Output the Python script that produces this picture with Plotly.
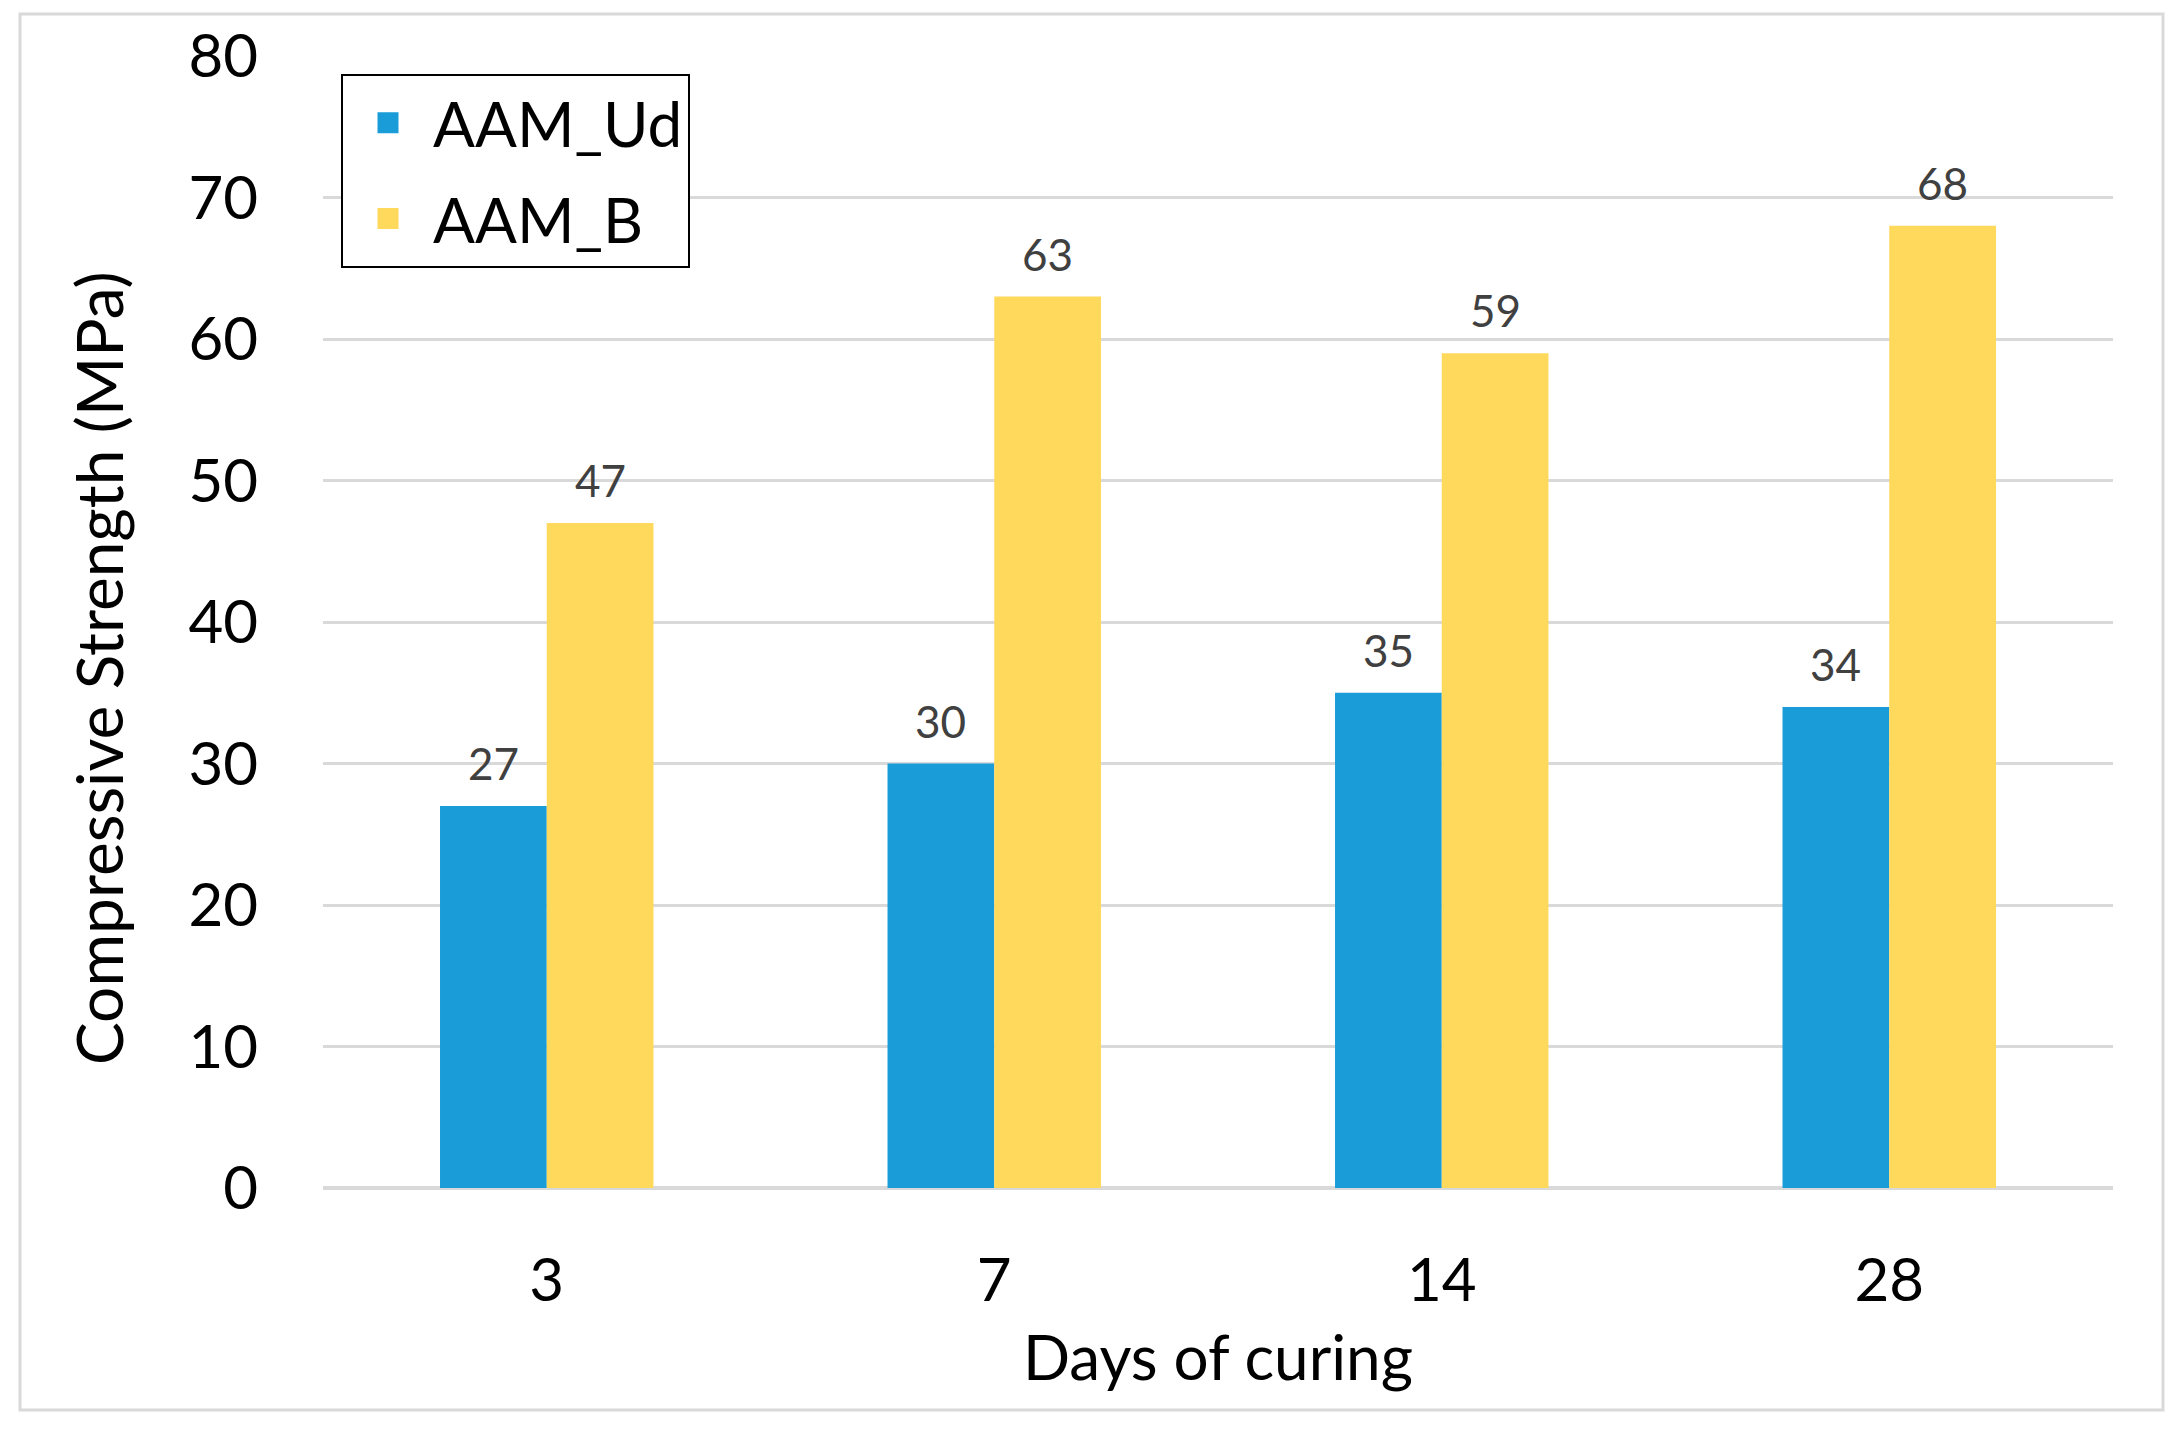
import plotly.graph_objects as go

days = ["3", "7", "14", "28"]
aam_ud = [27, 30, 35, 34]
aam_b = [47, 63, 59, 68]
series_names = ["AAM_Ud", "AAM_B"]
colors = ["#1a9cd8", "#ffd95c"]
y_ticks = [0, 10, 20, 30, 40, 50, 60, 70, 80]

FONT = "Lato"
W, H = 2184, 1431
OFF = 8  # page body margin
L, R, T, B = 323 - OFF, 71 + OFF, 56 - OFF, 243 + OFF

fig = go.Figure()
for name, vals, col in zip(series_names, [aam_ud, aam_b], colors):
    fig.add_trace(go.Bar(x=days, y=vals, name=name, marker=dict(color=col, line=dict(width=0)),
                         showlegend=False))
# legend entries with larger square icons
for name, col in zip(series_names, colors):
    fig.add_trace(go.Scatter(x=[None], y=[None], mode="markers", name=name, legendgroup=name,
                             marker=dict(symbol="square", size=16, color=col,
                                         line=dict(color=col, width=5))))

# data labels
for si, vals in enumerate([aam_ud, aam_b]):
    for ci, v in enumerate(vals):
        fig.add_annotation(x=ci + (-0.12 if si == 0 else 0.12), y=v, xref="x", yref="y",
                           text=str(v), showarrow=False, yanchor="bottom", yshift=15,
                           font=dict(family=FONT, size=44, color="#404040"))

pw = W - L - R
ph = H - T - B
bottom_px = 1188  # plot bottom in reference pixel coords
left_px = 323
fig.add_annotation(text="Compressive Strength (MPa)", xref="paper", yref="paper",
                   x=(98 - left_px) / pw, y=(bottom_px - 668) / ph, textangle=-90, showarrow=False,
                   xanchor="center", yanchor="middle", font=dict(family=FONT, size=64, color="#000000"))
fig.add_annotation(text="Days of curing", xref="paper", yref="paper",
                   x=0.5, y=(bottom_px - 1356) / ph, showarrow=False,
                   xanchor="center", yanchor="middle", font=dict(family=FONT, size=62, color="#000000"))

# chart-area border
fig.add_shape(type="rect", xref="paper", yref="paper",
              x0=(20 - left_px) / pw, x1=(2163 - left_px) / pw,
              y0=(bottom_px - 1410) / ph, y1=(bottom_px - 14) / ph,
              line=dict(color="#d9d9d9", width=3), fillcolor="rgba(0,0,0,0)", layer="below")

fig.update_layout(
    width=W, height=H,
    margin=dict(l=L, r=R, t=T, b=B, autoexpand=False),
    paper_bgcolor="white", plot_bgcolor="white",
    barmode="group", bargap=0.523, bargroupgap=0,
    font=dict(family=FONT, color="#000000"),
    legend=dict(x=(341 - left_px) / pw, y=(bottom_px - 74) / ph, xanchor="left", yanchor="top",
                bordercolor="#000000", borderwidth=2, bgcolor="white",
                font=dict(family=FONT, size=62, color="#000000"),
                tracegroupgap=12, itemsizing="trace", itemwidth=80,
                entrywidth=290, entrywidthmode="pixels"),
    xaxis=dict(type="category", categoryorder="array", categoryarray=days,
               showgrid=False, showline=False, ticks="", zeroline=False,
               tickfont=dict(family=FONT, size=60, color="#000000"), ticklabelstandoff=52),
    yaxis=dict(range=[0, 80], tickvals=y_ticks, showgrid=True, gridcolor="#d9d9d9", gridwidth=3,
               zeroline=True, zerolinecolor="#d9d9d9", zerolinewidth=4, showline=False, ticks="",
               tickfont=dict(family=FONT, size=60, color="#000000"), ticklabelstandoff=64),
)

fig.write_html("out.html")
